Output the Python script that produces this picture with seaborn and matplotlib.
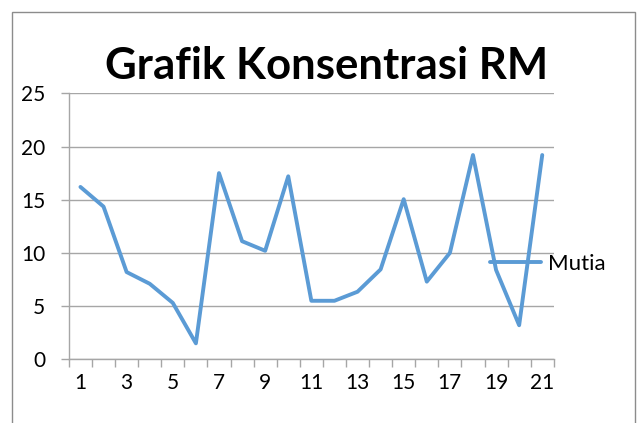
import numpy as np
import pandas as pd
import seaborn as sns
import matplotlib.pyplot as plt
from matplotlib.patches import Rectangle
from matplotlib.ticker import FixedLocator

# data
sample_no = list(range(1, 22))
mutia = [16.2, 14.35, 8.2, 7.1, 5.3, 1.5, 17.5, 11.1, 10.2, 17.2, 5.5,
         5.5, 6.35, 8.45, 15.05, 7.3, 10.0, 19.2, 8.4, 3.2, 19.2]
y_ticks = [0, 5, 10, 15, 20, 25]
x_labels = [str(i) for i in range(1, 22, 2)]

df = pd.DataFrame({"no": sample_no, "Mutia": mutia})

sns.set_style("white")
plt.rcParams["font.family"] = ["Lato", "DejaVu Sans"]
plt.rcParams["text.color"] = "black"
plt.rcParams["xtick.labelcolor"] = "black"
plt.rcParams["ytick.labelcolor"] = "black"

fig = plt.figure(figsize=(6.38, 4.23), dpi=100)
ax = fig.add_axes([0.108, 0.1506, 0.760, 0.6288])

# chart border
fig.patches.append(Rectangle((12 / 638, -0.1), 623 / 638, 1.1 - 12 / 423,
                             transform=fig.transFigure, fill=False,
                             edgecolor="#8c8c8c", linewidth=1.0))

sns.lineplot(data=df, x="no", y="Mutia", ax=ax, color="#5b9bd5",
             linewidth=2.8, label="Mutia", legend=False)

ax.set_xlim(0.5, 21.5)
ax.set_ylim(0, 25)
ax.set_yticks(y_ticks)
ax.set_yticklabels([str(v) for v in y_ticks], fontsize=15)
ax.yaxis.grid(True, color="#a6a6a6", linewidth=1.0)
ax.set_axisbelow(True)

# category boundaries get tick marks, labels sit on the points
ax.xaxis.set_major_locator(FixedLocator(np.arange(0.5, 22, 1)))
ax.set_xticklabels([])
ax.xaxis.set_minor_locator(FixedLocator(range(1, 22, 2)))
ax.set_xticklabels(x_labels, minor=True, fontsize=15)
ax.tick_params(axis="x", which="major", direction="out", length=6,
               color="#a6a6a6", width=1.0, bottom=True)
ax.tick_params(axis="x", which="minor", length=0, pad=10)
ax.tick_params(axis="y", direction="out", length=6, color="#a6a6a6",
               width=1.0, left=True, pad=11)

for s in ["top", "right"]:
    ax.spines[s].set_visible(False)
for s in ["left", "bottom"]:
    ax.spines[s].set_color("#a6a6a6")
    ax.spines[s].set_linewidth(1.0)

ax.set_xlabel("")
ax.set_ylabel("")

fig.text(0.512, 0.845, "Grafik Konsentrasi RM", ha="center", va="center",
         fontsize=31.5, fontweight="bold", color="black")

ax.legend(loc="center left", bbox_to_anchor=(0.845, 0.36), frameon=False,
          fontsize=16, handlelength=2.3, handletextpad=0.3, borderpad=0,
          labelcolor="black")

fig.savefig("out.png", dpi=100)
